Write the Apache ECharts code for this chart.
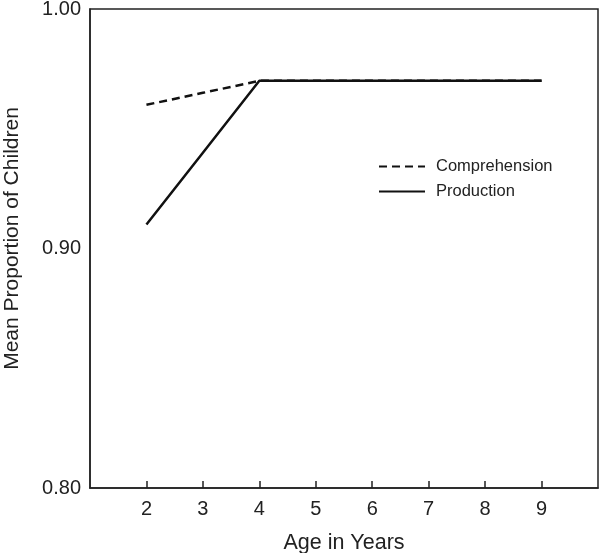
<!DOCTYPE html>
<html><head><meta charset="utf-8">
<script src="https://cdn.jsdelivr.net/npm/echarts@6/dist/echarts.min.js"></script>
<style>html,body{margin:0;padding:0;background:#fff}#c{width:600px;height:553px}</style>
</head><body><div id="c"></div>
<script>
var ages = [2, 3, 4, 5, 6, 7, 8, 9];
var comprehension = [0.96, 0.965, 0.97, 0.97, 0.97, 0.97, 0.97, 0.97];
var production = [0.91, 0.94, 0.97, 0.97, 0.97, 0.97, 0.97, 0.97];
var yTicks = [0.80, 0.90, 1.00];

function pairs(v){ return ages.map(function(a,i){ return [a, v[i]]; }); }
var font = 'Liberation Sans, Arial, Helvetica, sans-serif';
var chart = echarts.init(document.getElementById('c'));
chart.setOption({
  animation: false,
  grid: { left: 90, right: 2, top: 9, bottom: 65, show: true, borderColor: '#222', borderWidth: 1.5,
          containLabel: false, outerBoundsMode: 'none' },
  legend: {
    orient: 'vertical', left: 373, top: 153, itemGap: 8, itemWidth: 46, itemHeight: 12,
    itemStyle: { opacity: 0 },
    textStyle: { fontFamily: font, fontSize: 16.5, color: '#222', padding: [0,0,0,6] },
    data: ['Comprehension', 'Production']
  },
  xAxis: {
    type: 'value', min: 1, max: 10, interval: 1,
    name: 'Age in Years', nameLocation: 'middle', nameGap: 44,
    nameTextStyle: { fontFamily: font, fontSize: 21.5, color: '#222' },
    axisLine: { lineStyle: { color: '#222', width: 1.5 } },
    axisTick: { inside: true, length: 7, lineStyle: { color: '#222', width: 1.5 }, customValues: ages },
    axisLabel: { fontFamily: font, fontSize: 20, color: '#222', margin: 11, customValues: ages },
    splitLine: { show: false }
  },
  yAxis: {
    type: 'value', min: 0.8, max: 1.0, interval: 0.1,
    name: 'Mean Proportion of Children', nameLocation: 'middle', nameGap: 67,
    nameTextStyle: { fontFamily: font, fontSize: 21, color: '#222', padding: [0,0,0,20] },
    axisLine: { show: true, lineStyle: { color: '#222', width: 1.5 } },
    axisTick: { show: false },
    axisLabel: { fontFamily: font, fontSize: 20, color: '#222', margin: 9, customValues: yTicks,
      formatter: function(v){ return v.toFixed(2); } },
    splitLine: { show: false }
  },
  series: [
    { name: 'Comprehension', type: 'line', data: pairs(comprehension), symbol: 'none',
      lineStyle: { color: '#111', width: 2.5, type: [8, 5] }, itemStyle: { color: '#111' }, z: 3 },
    { name: 'Production', type: 'line', data: pairs(production), symbol: 'none',
      lineStyle: { color: '#111', width: 2.5 }, itemStyle: { color: '#111' }, z: 4 }
  ]
});
</script></body></html>
